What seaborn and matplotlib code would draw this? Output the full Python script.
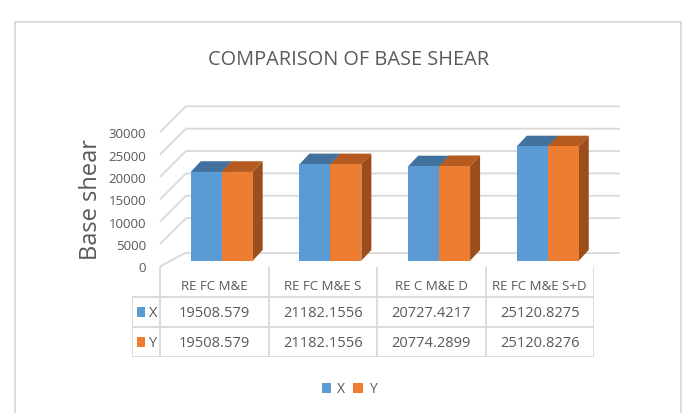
import numpy as np
import pandas as pd
import matplotlib
matplotlib.use('Agg')
import matplotlib.pyplot as plt
import matplotlib.transforms as mtransforms
from matplotlib.patches import Polygon, Rectangle, Patch
import seaborn as sns

sns.set_theme(style='white')
plt.rcParams['font.family'] = ['Open Sans', 'DejaVu Sans']

models = ['RE FC M&E', 'RE FC M&E S', 'RE C M&E D', 'RE FC M&E S+D']
shear_x = [19508.579, 21182.1556, 20727.4217, 25120.8275]
shear_y = [19508.579, 21182.1556, 20774.2899, 25120.8276]
directions = ['X', 'Y']
yticks = [0, 5000, 10000, 15000, 20000, 25000, 30000]

blue, orange = '#5B9BD5', '#ED7D31'
top_col = {'X': '#41719C', 'Y': '#B65B20'}
side_col = {'X': '#31557A', 'Y': '#9B4D1B'}
grey_txt = '#595959'
line_col = '#D9D9D9'

df = pd.DataFrame({
    'model': models * 2,
    'dir': ['X'] * len(models) + ['Y'] * len(models),
    'shear': shear_x + shear_y,
})

W, H = 683, 414
fig = plt.figure(figsize=(W / 100, H / 100), dpi=100)


def box(left, top, right, bottom):
    # pixel box (from top-left) -> figure fraction rect
    return [left / W, 1 - bottom / H, (right - left) / W, (bottom - top) / H]


# outer chart frame
fig.patches.append(Rectangle((14.5 / W, -0.1), (681 - 14.5) / W, 1.1 - 23 / H,
                             transform=fig.transFigure, fill=False,
                             edgecolor=line_col, lw=1.3))

fig.text(348.5 / W, 1 - 60 / H, 'COMPARISON OF BASE SHEAR', ha='center', va='center',
         fontsize=14.3, color=grey_txt)
fig.text(91 / W, 1 - 200 / H, 'Base shear', ha='center', va='center', rotation=90,
         fontsize=17, color=grey_txt)

# ---- back wall with grid lines (front edge scale) ----
wall_scale = 134.2 / 30000  # px per unit
wall = fig.add_axes(box(160, 100, 620, 267.5))
wall.set_ylim(0, 167.5 / wall_scale)
wall.set_xlim(0, 1)
wall.set_yticks(yticks)
wall.set_yticklabels([str(t) for t in yticks])
wall.set_xticks([])
wall.tick_params(axis='y', length=0, pad=10, labelsize=9.5, labelcolor=grey_txt)
for s in wall.spines.values():
    s.set_visible(False)
wall.patch.set_alpha(0)
trans = mtransforms.blended_transform_factory(wall.transAxes, wall.transData)
for t in yticks:
    back_dx = 26 / 460 if t else 25 / 460
    back_dy = (26 if t else 13.4) / wall_scale
    wall.plot([0, back_dx, 1], [t, t + back_dy, t + back_dy], color=line_col, lw=1.3,
              transform=trans, clip_on=False, solid_capstyle='butt')

# ---- bars ----
bar_scale = 0.00455  # px per unit
ax = fig.add_axes(box(167.35, 100, 602.15, 261.7))
sns.barplot(data=df, x='model', y='shear', hue='dir', palette=[blue, orange],
            width=0.57, gap=0, saturation=1, legend=False, ax=ax)
ax.set_xlim(-0.5, len(models) - 0.5)
ax.set_ylim(0, 161.7 / bar_scale)
ax.axis('off')
ax.patch.set_alpha(0)

dx = 10 / 108.7
dy = 10.7 / bar_scale
for d, cont in zip(directions, ax.containers):
    for p in cont.patches:
        x0, w, h = p.get_x(), p.get_width(), p.get_height()
        p.set_edgecolor('none')
        p.set_zorder(3)
        ax.add_patch(Polygon([(x0, h), (x0 + w, h), (x0 + w + dx, h + dy), (x0 + dx, h + dy)],
                             closed=True, facecolor=top_col[d], edgecolor='none', zorder=2))
        ax.add_patch(Polygon([(x0 + w, 0), (x0 + w + dx, dy), (x0 + w + dx, h + dy), (x0 + w, h)],
                             closed=True, facecolor=side_col[d], edgecolor='none', zorder=2))

# ---- data table ----
tab = fig.add_axes(box(131.7, 268, 594, 358.3))
left_edge = -0.5 - 28.3 / 108.5
tab.set_xlim(left_edge, len(models) - 0.5)
tab.set_ylim(3, 0)
tab.axis('off')
for i in range(len(models) + 1):
    tab.plot([i - 0.5, i - 0.5], [0, 3], color=line_col, lw=1.3)
tab.plot([left_edge, left_edge], [1, 3], color=line_col, lw=1.3)
for r in (1, 2, 3):
    tab.plot([left_edge, len(models) - 0.5], [r, r], color=line_col, lw=1.3)
for i, m in enumerate(models):
    tab.text(i, 0.62, m, ha='center', va='center', fontsize=9.5, color=grey_txt)
for r, (d, vals, c) in enumerate(zip(directions, [shear_x, shear_y], [blue, orange])):
    yc = 1.5 + r
    for i, v in enumerate(vals):
        tab.text(i, yc, str(v), ha='center', va='center', fontsize=10.5, color=grey_txt)
    tab.add_patch(Rectangle((left_edge + 5.5 / 108.5, yc - 0.17), 7.5 / 108.5, 0.34,
                            facecolor=c, edgecolor='none'))
    tab.text(left_edge + 17 / 108.5, yc, d, ha='left', va='center', fontsize=10.5, color=grey_txt)

# ---- legend ----
handles = [Patch(facecolor=c, edgecolor='none', label=d) for d, c in zip(directions, [blue, orange])]
fig.legend(handles=handles, loc='center', bbox_to_anchor=(349 / W, 1 - 390 / H), ncol=2,
           frameon=False, fontsize=10, handlelength=0.7, handleheight=0.7,
           handletextpad=0.4, columnspacing=0.6, labelcolor=grey_txt)

fig.savefig('out.png', dpi=100)
